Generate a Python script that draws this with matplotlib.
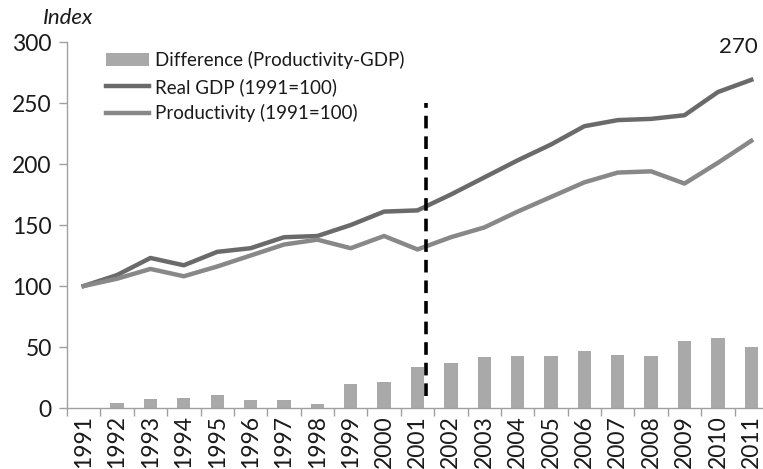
import numpy as np
import matplotlib.pyplot as plt

plt.rcParams['font.family'] = ['Lato', 'DejaVu Sans']

# data
years = [str(y) for y in range(1991, 2012)]
top_line = [100, 109, 123, 117, 128, 131, 140, 141, 150, 161, 162,
            175, 189, 203, 216, 231, 236, 237, 240, 259, 269]
low_line = [100, 106, 114, 108, 116, 125, 134, 138, 131, 141, 130,
            140, 148, 161, 173, 185, 193, 194, 184, 201, 219]
difference = [0, 4, 7.4, 8.5, 11, 6.5, 6.5, 3, 19.6, 21.3, 33.6,
              37, 41.5, 42.6, 42.6, 46.4, 43.4, 42.6, 54.9, 57.4, 50]
end_label = "270"

fig = plt.figure(figsize=(7.63, 4.69), dpi=100)
ax = fig.add_axes([0.0878, 0.130, 0.9187, 0.7804])

x = np.arange(len(years))
bars = ax.bar(x, difference, width=0.4, color='#a9a9a9', label='Difference (Productivity-GDP)', zorder=2)
l1, = ax.plot(x, top_line, color='#6a6a6a', lw=3.2, label='Real GDP (1991=100)', zorder=3)
l2, = ax.plot(x, low_line, color='#888888', lw=3.2, label='Productivity (1991=100)', zorder=3)

# break marker after 2001
ax.vlines(10.25, 10, 250, colors='black', linestyles=(0, (3.5, 2.2)), lw=2.6, zorder=4)

ax.set_xlim(-0.5, len(years) - 0.5)
ax.set_ylim(0, 300)
ax.set_yticks(range(0, 301, 50))
ax.set_xticks(x)
ax.set_xticklabels(years, rotation=90, fontsize=16.5, color='#1a1a1a')
ax.set_xticks(np.arange(-0.5, len(years), 1), minor=True)
ax.tick_params(axis='x', which='major', length=0, pad=5)
ax.tick_params(axis='x', which='minor', length=6, color='#a0a0a0', width=1)
ax.tick_params(axis='y', length=6, color='#a0a0a0', width=1, labelsize=16.5, labelcolor='#1a1a1a', pad=5)

for s in ['top', 'right']:
    ax.spines[s].set_visible(False)
for s in ['left', 'bottom']:
    ax.spines[s].set_color('#a0a0a0')
    ax.spines[s].set_linewidth(1)

fig.text(0.056, 0.962, 'Index', fontsize=16, style='italic', color='#1a1a1a', va='center')
ax.text(x[-1] + 0.2, 296, end_label, fontsize=16, color='#1a1a1a', ha='right', va='center')

leg = ax.legend([bars, l1, l2], [bars.get_label(), l1.get_label(), l2.get_label()],
                loc='upper left', bbox_to_anchor=(0.045, 0.995), frameon=False,
                fontsize=13.5, handlelength=2.3, handletextpad=0.3, labelspacing=0.45,
                borderaxespad=0)
for t in leg.get_texts():
    t.set_color('#1a1a1a')

fig.savefig('out.png', dpi=100)
